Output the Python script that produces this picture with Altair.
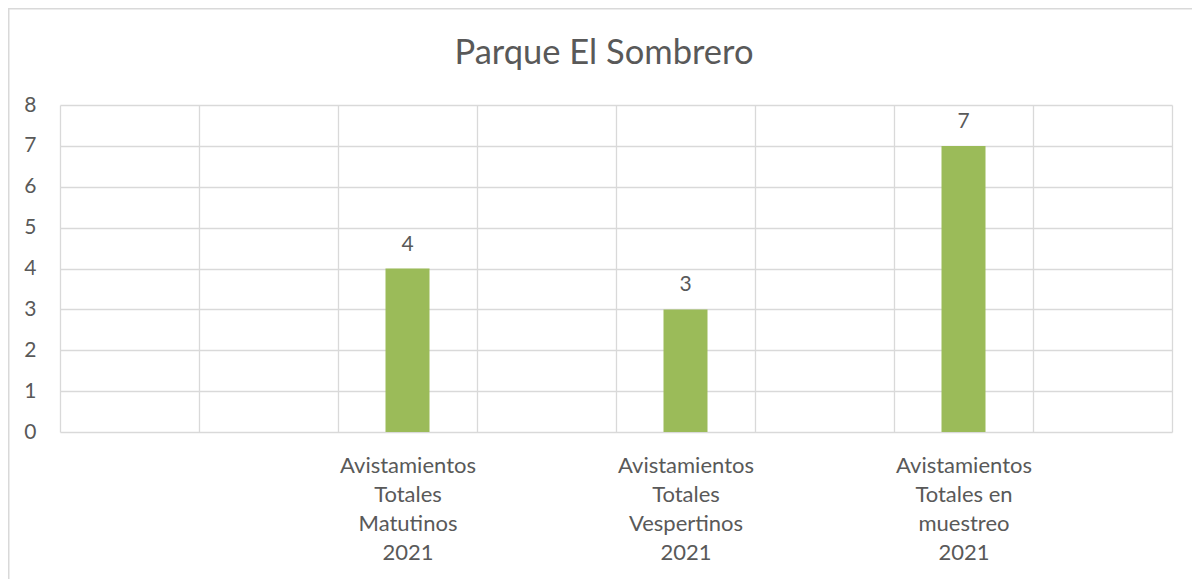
import altair as alt
import pandas as pd

# Category slots (8 bands); empty slots have unique blank keys
categories = [" ", "  ",
              "Avistamientos|Totales|Matutinos|2021",
              "   ",
              "Avistamientos|Totales|Vespertinos|2021",
              "    ",
              "Avistamientos|Totales en|muestreo|2021",
              "     "]
bar_categories = ["Avistamientos|Totales|Matutinos|2021",
                  "Avistamientos|Totales|Vespertinos|2021",
                  "Avistamientos|Totales en|muestreo|2021"]
bar_values = [4, 3, 7]
y_ticks = [0, 1, 2, 3, 4, 5, 6, 7, 8]
title_text = ["Parque El Sombrero"]

FONT = "Lato"
TXT = "#595959"
GRID = "#D9D9D9"
BAR = "#9BBB59"

df = pd.DataFrame({"cat": bar_categories, "val": bar_values})

x_enc = alt.X("cat:N", scale=alt.Scale(domain=categories, paddingInner=0, paddingOuter=0),
              sort=categories,
              axis=alt.Axis(title=None, labelExpr="split(datum.label, '|')", labelAngle=0,
                            labelFont=FONT, labelFontSize=22, labelColor=TXT,
                            labelPadding=23, labelLineHeight=29.3, labelBaseline="top",
                            tickBand="extent", grid=True, gridColor=GRID, gridWidth=1.3,
                            domain=False, ticks=False))
y_enc = alt.Y("val:Q", scale=alt.Scale(domain=[0, 8], nice=False),
              axis=alt.Axis(title=None, values=y_ticks, labelFont=FONT, labelFontSize=21,
                            labelColor=TXT, labelPadding=24, grid=True, gridColor=GRID,
                            gridWidth=1.3, domain=False, ticks=False))

bars = alt.Chart(df).mark_bar(color=BAR, size=44).encode(x=x_enc, y=y_enc)
labels = alt.Chart(df).mark_text(font=FONT, fontSize=21, color=TXT, dy=-18,
                                 baseline="alphabetic").encode(
    x=alt.X("cat:N", sort=categories), y="val:Q", text="val:Q")

title_df = pd.DataFrame({"t": title_text})
title = alt.Chart(title_df).mark_text(font=FONT, fontSize=34.5, color=TXT,
                                      baseline="alphabetic", align="center").encode(
    x=alt.value(544), y=alt.value(-41.5), text="t:N")

border_df = pd.DataFrame({"k": [0]})
left_border = alt.Chart(border_df).mark_rule(color=GRID, strokeWidth=2).encode(
    x=alt.value(-51.5), y=alt.value(-97), y2=alt.value(474))
top_border = alt.Chart(border_df).mark_rule(color=GRID, strokeWidth=2).encode(
    x=alt.value(-52), x2=alt.value(1135), y=alt.value(-96.5))

chart = alt.layer(bars, labels, title, left_border, top_border).properties(
    width=1112, height=327,
    autosize=alt.AutoSizeParams(type="none"),
    padding={"left": 52, "top": 97, "right": 20, "bottom": 147},
).configure_view(stroke=None)

chart.save("out.html", embed_options={"renderer": "svg", "actions": False})
